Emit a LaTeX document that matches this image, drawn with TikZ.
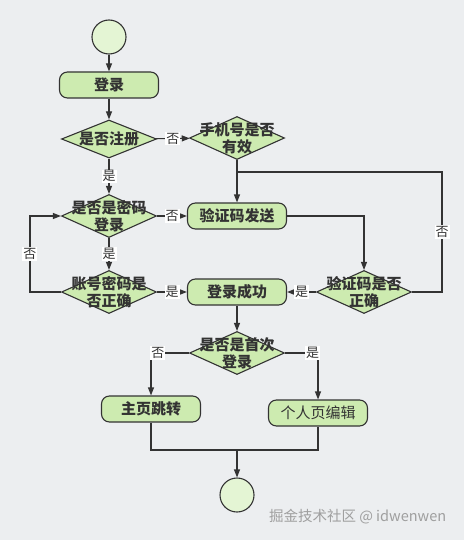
\documentclass[tikz,border=0pt]{standalone}
\usepackage{fontspec}
\setmainfont{Noto Sans CJK SC}
\usetikzlibrary{shapes.geometric, arrows.meta}
\definecolor{bgcol}{HTML}{ECEEF0}
\definecolor{boxfill}{HTML}{CDEBB0}
\definecolor{dotfill}{HTML}{E4F5D4}
\definecolor{linecol}{HTML}{333333}

\begin{document}
\begin{tikzpicture}[x=1pt, y=-1pt, >={Triangle[length=8pt,width=6pt]}, line width=1.1pt, linecol,
		act/.style={draw, fill=boxfill, rounded corners=8pt, minimum width=99pt, minimum height=26pt, inner sep=0pt, font=\fontsize{15}{17}\selectfont\bfseries},
		dec/.style={draw, fill=boxfill, diamond, minimum width=95pt, minimum height=43pt, inner sep=0pt},
		dectxt/.style={align=center, inner sep=0pt, font=\fontsize{15}{17}\selectfont\bfseries},
		dot/.style={circle, draw, fill=dotfill, minimum size=34pt, inner sep=0pt},
		lbl/.style={fill=white, inner sep=1pt, font=\fontsize{13}{13}\selectfont}]
		
		% Background and margins
		\fill[bgcol] (0,0) rectangle (464,540);
		\useasboundingbox (0,0) rectangle (464,540);
		
		% Start and login
		\node[dot] (start) at (109,37) {};
		\node[act] (login) at (109,85) {登录};
		
		% Decisions (left column)
		\node[dec, minimum height=38pt, label={[dectxt]center:是否注册}] (reg) at (109,139) {};
		\node[dec, label={[dectxt]center:{是否是密码\\登录}}] (pwd) at (109,216) {};
		\node[dec, label={[dectxt]center:{账号密码是\\否正确}}] (acc) at (109,292) {};
		
		% Middle column
		\node[dec, label={[dectxt]center:{手机号是否\\有效}}] (phone) at (237,138) {};
		\node[act] (code) at (237,216) {验证码发送};
		\node[act] (ok) at (237,292) {登录成功};
		\node[dec, label={[dectxt]center:{是否是首次\\登录}}] (first) at (237,353) {};
		
		% Right column
		\node[dec, label={[dectxt]center:{验证码是否\\正确}}] (check) at (364,292) {};
		
		% Results and end
		\node[act] (home) at (151,409) {主页跳转};
		\node[act, font=\fontsize{15}{17}\selectfont] (edit) at (318,413) {个人页编辑};
		\node[dot] (end) at (237,495) {};
		
		% Helper points
		\coordinate (loop) at (237,172);
		\coordinate (back) at (442,172);
		\coordinate (merge) at (237,450);
		
		% Main flow
		\draw[->] (start) -- (login);
		\draw[->] (login) -- (reg);
		\draw[->] (reg) -- node[lbl] {否} (phone);
		\draw[->] (phone) -- (code);
		\draw[->] (reg) -- node[lbl] {是} (pwd);
		\draw[->] (pwd) -- node[lbl] {否} (code);
		\draw[->] (pwd) -- node[lbl] {是} (acc);
		\draw[->] (code) -| (check);
		\draw[->] (check) -- node[lbl] {是} (ok);
		\draw[->] (acc) -- node[lbl] {是} (ok);
		\draw[->] (ok) -- (first);
		
		% Loops back
		\draw (check.east) -| node[lbl, pos=0.75] {否} (back) -- (loop);
		\draw[->] (acc.west) -- ++(-31,0) |- node[lbl, pos=0.25] {否} (pwd.west);
		
		% First login or not
		\draw[->] (first.west) -| node[lbl, pos=0.41] {否} (home.north);
		\draw[->] (first.east) -| node[lbl, pos=0.42] {是} (edit.north);
		
		% Merge to end
		\draw (home.south) |- (merge) -| (edit.south);
		\draw[->] (merge) -- (end);
		
		% Watermark
		\node[anchor=east, text=gray!75, font=\fontsize{14.5}{14.5}\selectfont] (mark) at (450,517) {掘金技术社区 @ idwenwen};
		
	\end{tikzpicture}
\end{document}
